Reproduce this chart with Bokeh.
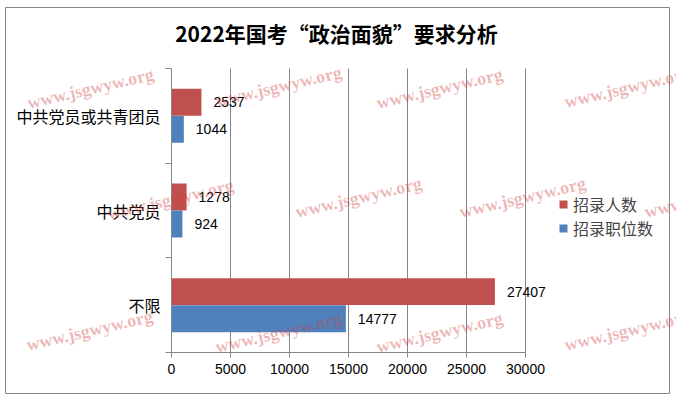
from bokeh.plotting import figure
from bokeh.models import (Range1d, FixedTicker, LinearAxis, Legend, LegendItem, Label,
                          ColumnDataSource)
from bokeh.core.properties import value
from bokeh.embed import file_html
from bokeh.resources import INLINE

# ---- data ----
categories = ["中共党员或共青团员", "中共党员", "不限"]
recruits = [2537, 1278, 27407]      # 招录人数
posts = [1044, 924, 14777]          # 招录职位数
series_names = ["招录人数", "招录职位数"]
x_ticks = [0, 5000, 10000, 15000, 20000, 25000, 30000]
title_text = "2022年国考“政治面貌”要求分析"
watermark_text = "www.jsgwyw.org"

# ---- layout (canvas pixels from top-left) ----
W, H = 676, 399
PL, PR = 171, 525          # x pixel of axis start / end
PT, PB = 68, 352           # y pixel of plot top / bottom
X_END = x_ticks[-1]
n = len(categories)
sx = (PR - PL) / X_END
sy = (PB - PT) / n
x_start = -PL / sx
x_end = x_start + W / sx
y_start = -(H - PB) / sy
y_end = y_start + H / sy

def px2x(px):
    return x_start + px / sx

def py2y(py):
    return y_start + (H - py) / sy

wm_pos = [(90, 88), (278, 86), (439, 88), (627, 87),
          (170, 199), (358, 197), (522, 197), (707, 197),
          (89, 330), (278, 332), (439, 332), (627, 330)]
DODGE = 0.143
BAR_H = 0.285

RED = "#C0504D"
BLUE = "#4F81BD"
GRID = "#868686"
CJK = "Noto Sans CJK SC"

centers = [n - 1 - i + 0.5 for i in range(n)]   # first category at the top

p = figure(width=W, height=H,
           x_range=Range1d(x_start, x_end), y_range=Range1d(y_start, y_end),
           output_backend="svg", toolbar_location=None,
           min_border=0, min_border_left=0, min_border_right=0,
           min_border_top=0, min_border_bottom=0,
           x_axis_location=None, y_axis_location=None)
p.outline_line_color = None
p.background_fill_color = "white"
p.border_fill_color = "white"
p.grid.visible = False

# outer chart border
p.quad(left=px2x(5), right=px2x(669), top=py2y(7), bottom=py2y(393),
       fill_color=None, line_color="#878787", line_width=1)

# vertical gridlines
p.segment(x0=x_ticks, y0=[0] * len(x_ticks), x1=x_ticks, y1=[n] * len(x_ticks),
          line_color=GRID, line_width=1)

# bottom axis
xa = LinearAxis(fixed_location=0, bounds=(0, X_END),
                ticker=FixedTicker(ticks=x_ticks),
                major_tick_out=5, major_tick_in=0, minor_tick_line_color=None,
                axis_line_color=GRID, major_tick_line_color=GRID,
                major_label_text_font="Liberation Sans",
                major_label_text_font_size="14px",
                major_label_text_color="black", major_label_standoff=6)
p.add_layout(xa, "below")

# left axis: tick marks at category boundaries
edges = list(range(n + 1))
edge_axis = LinearAxis(fixed_location=0, bounds=(0, n),
                       ticker=FixedTicker(ticks=edges),
                       major_label_overrides={e: "" for e in edges},
                       major_label_text_font_size="1px", major_label_standoff=0,
                       major_tick_out=6, major_tick_in=0,
                       minor_tick_line_color=None,
                       axis_line_color=GRID, major_tick_line_color=GRID)
p.add_layout(edge_axis, "left")
# left axis: category names at slot centres
cat_axis = LinearAxis(fixed_location=0, bounds=(0, n),
                      ticker=FixedTicker(ticks=centers),
                      major_label_overrides={c: name for c, name in zip(centers, categories)},
                      axis_line_color=None, major_tick_line_color=None,
                      minor_tick_line_color=None, major_tick_out=0, major_tick_in=0,
                      major_label_text_font=CJK,
                      major_label_text_font_size="16px",
                      major_label_text_color="black",
                      major_label_standoff=11)
p.add_layout(cat_axis, "left")

src = ColumnDataSource(dict(
    yr=[c + DODGE for c in centers], yp=[c - DODGE for c in centers],
    recruits=recruits, posts=posts,
    rl=[str(v) for v in recruits], pl=[str(v) for v in posts]))

r1 = p.hbar(y="yr", left=0, right="recruits", height=BAR_H,
            fill_color=RED, line_color=None, source=src)
r2 = p.hbar(y="yp", left=0, right="posts", height=BAR_H,
            fill_color=BLUE, line_color=None, source=src)

for col, lab, ycol in (("recruits", "rl", "yr"), ("posts", "pl", "yp")):
    p.text(x=col, y=ycol, text=lab, source=src,
           x_offset=12, text_align="left", text_baseline="middle",
           text_font=value("Liberation Sans"), text_font_size="14px", text_color="black")

legend = Legend(items=[LegendItem(label=series_names[0], renderers=[r1]),
                       LegendItem(label=series_names[1], renderers=[r2])],
                location=(558, H - 240), padding=0, margin=0, spacing=0,
                glyph_width=10, glyph_height=10, label_height=24, label_standoff=5,
                label_text_font=CJK, label_text_font_size="16px",
                border_line_color=None, background_fill_alpha=0)
p.add_layout(legend)

p.add_layout(Label(x=336, y=H - 32, x_units="screen", y_units="screen",
                   text=title_text, text_align="center", text_baseline="middle",
                   text_font=CJK, text_font_size="21px", text_font_style="bold",
                   text_color="black"))

for (px, py) in wm_pos:
    p.add_layout(Label(x=px, y=H - py, x_units="screen", y_units="screen",
                       text=watermark_text, angle=0.23, text_align="center",
                       text_baseline="middle", text_font="Liberation Serif",
                       text_font_style="bold", text_font_size="18px",
                       text_color="#D04040", text_alpha=0.38))

open("out.html", "w").write(file_html(p, INLINE))
